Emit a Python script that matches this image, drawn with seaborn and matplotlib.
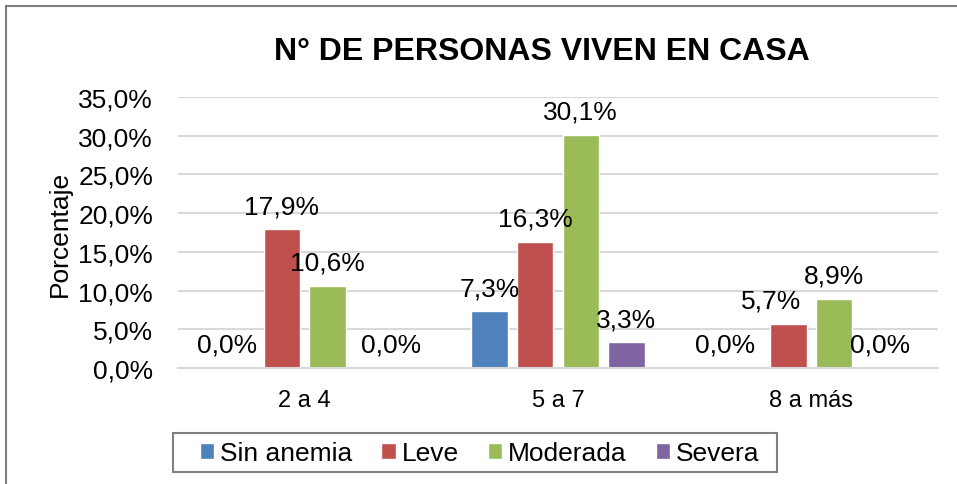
import numpy as np
import pandas as pd
import seaborn as sns
import matplotlib
matplotlib.use("Agg")
import matplotlib.pyplot as plt
from matplotlib.patches import Rectangle

categorias = ["2 a 4", "5 a 7", "8 a más"]
niveles = ["Sin anemia", "Leve", "Moderada", "Severa"]
sin_anemia = [0.0, 7.3, 0.0]
leve = [17.9, 16.3, 5.7]
moderada = [10.6, 30.1, 8.9]
severa = [0.0, 3.3, 0.0]
colores = ["#4F81BD", "#C0504D", "#9BBB59", "#8064A2"]
y_ticks = [0, 5, 10, 15, 20, 25, 30, 35]

# (nivel index, categoria index) -> horizontal nudge of the label in pixels,
# the source chart moves a few labels sideways so they do not collide
label_nudge = {(0, 0): -9, (3, 0): 18, (0, 2): -18, (1, 2): -17}

def build_frame():
    rows = []
    for nivel, vals in zip(niveles, [sin_anemia, leve, moderada, severa]):
        for cat, v in zip(categorias, vals):
            rows.append({"categoria": cat, "nivel": nivel, "valor": v})
    return pd.DataFrame(rows)

def fmt(v):
    return f"{v:.1f}%".replace(".", ",")

if __name__ == '__main__':
    sns.set_theme(style="white")
    plt.rcParams['font.family'] = ['Liberation Sans', 'DejaVu Sans']
    plt.rcParams['text.color'] = "black"

    df = build_frame()
    fig = plt.figure(figsize=(9.57, 4.85), dpi=100)
    ax = fig.add_axes([178 / 957, 1 - 369 / 485, (938 - 178) / 957, (369 - 98) / 485])

    sns.barplot(data=df, x="categoria", y="valor", hue="nivel", order=categorias,
                hue_order=niveles, palette=colores, width=0.72, gap=0.2,
                saturation=1, ax=ax, legend=True)

    # data labels above each bar, zero bars included
    for i, cont in enumerate(ax.containers):
        labels = [fmt(b.get_height()) for b in cont]
        anns = ax.bar_label(cont, labels=labels, padding=8, fontsize=19, color="black")
        for j, ann in enumerate(anns):
            dx = label_nudge.get((i, j), 0) * 72 / fig.dpi
            ann.xyann = (dx, ann.xyann[1])

    ax.set_ylim(0, 35)
    ax.set_yticks(y_ticks)
    ax.set_yticklabels([fmt(t) for t in y_ticks], fontsize=19)
    ax.tick_params(axis="y", length=0, pad=18, labelcolor="black")
    ax.tick_params(axis="x", length=0, pad=15, labelsize=17, labelcolor="black")
    ax.yaxis.grid(True, color="#D9D9D9", linewidth=1.5)
    ax.set_axisbelow(True)
    for s in ["top", "right", "left"]:
        ax.spines[s].set_visible(False)
    ax.spines["bottom"].set_color("#D9D9D9")
    ax.spines["bottom"].set_linewidth(1.5)
    ax.set_xlabel("")
    ax.set_ylabel("Porcentaje", fontsize=19, color="black")
    ax.yaxis.set_label_coords(-(178 - 72) / 760, 0.5)

    handles, labs = ax.get_legend_handles_labels()
    ax.get_legend().remove()
    fig.legend(handles, labs, loc="center", bbox_to_anchor=(479.5 / 957, 1 - 454 / 485),
               ncol=4, fontsize=19, frameon=False,
               handlelength=0.55, handleheight=0.55, handletextpad=0.22, columnspacing=1.1,
               borderpad=0.2)
    # legend frame, wider than matplotlib's own padding would give
    fig.patches.append(Rectangle((173 / 957, 1 - 473 / 485), (777 - 173) / 957, 39 / 485,
                                 transform=fig.transFigure, fill=False,
                                 edgecolor="#808080", linewidth=1.5))

    fig.text(542 / 957, 1 - 52 / 485, "N° DE PERSONAS VIVEN EN CASA", fontsize=23,
             fontweight="bold", ha="center", va="center")

    fig.patches.append(Rectangle((6 / 957, -0.1), 1.2, 1 - 7 / 485 + 0.1,
                                 transform=fig.transFigure, fill=False,
                                 edgecolor="#808080", linewidth=1.5))

    fig.savefig("out.png", dpi=100)
